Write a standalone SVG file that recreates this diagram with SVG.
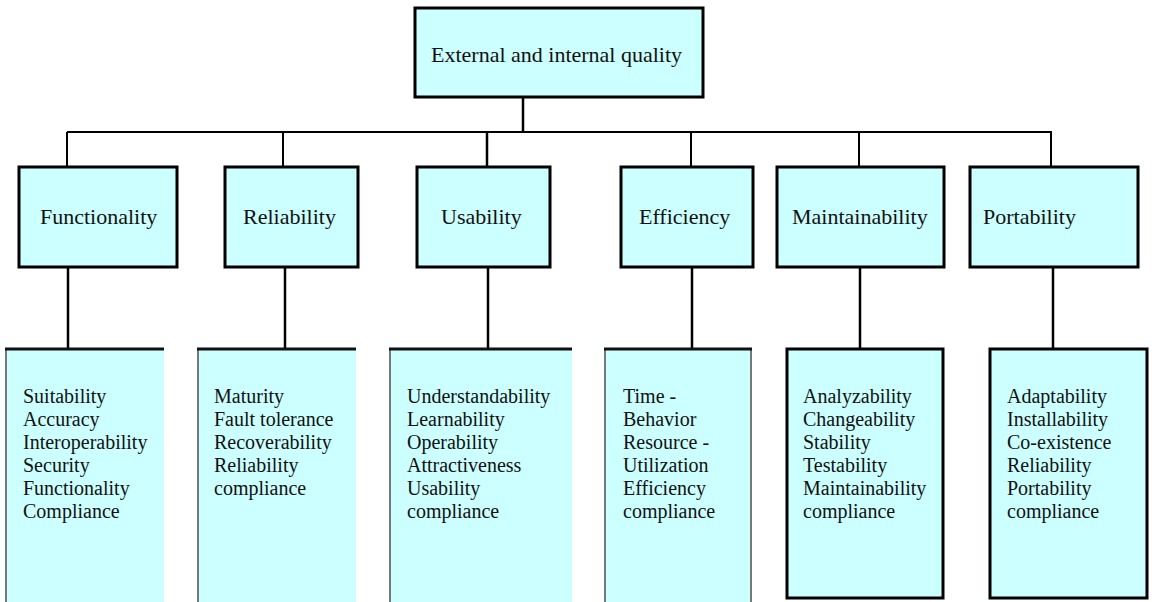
<svg xmlns="http://www.w3.org/2000/svg" width="1152" height="602" viewBox="0 0 1152 602">
  <style>
    .box { fill: #ccffff; stroke: #000; stroke-width: 3; }
    .open { fill: #ccffff; stroke: none; }
    .edge-top { stroke: #111; stroke-width: 3; }
    .edge-side { stroke: #777; stroke-width: 2; }
    .wire { stroke: #000; stroke-width: 2; fill: none; }
    .wire-thick { stroke: #000; stroke-width: 2.5; fill: none; }
    .head { font-family: "Liberation Serif", "Times New Roman", serif; font-size: 22px; fill: #111; }
    .item { font-family: "Liberation Serif", "Times New Roman", serif; font-size: 20px; fill: #111; }
  </style>
  <rect width="1152" height="602" fill="#fff"/>

  <!-- connectors -->
  <g id="connectors">
    <line class="wire-thick" x1="523" y1="97" x2="523" y2="132"/>
    <line class="wire" x1="67" y1="132" x2="1052" y2="132"/>
    <line class="wire" x1="67" y1="132" x2="67" y2="167"/>
    <line class="wire" x1="283" y1="132" x2="283" y2="167"/>
    <line class="wire-thick" x1="487" y1="132" x2="487" y2="167"/>
    <line class="wire" x1="691" y1="132" x2="691" y2="167"/>
    <line class="wire" x1="859" y1="132" x2="859" y2="167"/>
    <line class="wire" x1="1051" y1="132" x2="1051" y2="167"/>
    <line class="wire-thick" x1="68" y1="267" x2="68" y2="349"/>
    <line class="wire-thick" x1="285" y1="267" x2="285" y2="349"/>
    <line class="wire-thick" x1="488" y1="267" x2="488" y2="349"/>
    <line class="wire-thick" x1="692" y1="267" x2="692" y2="349"/>
    <line class="wire-thick" x1="860" y1="267" x2="860" y2="349"/>
    <line class="wire-thick" x1="1053" y1="267" x2="1053" y2="349"/>
  </g>

  <!-- root -->
  <g id="root">
    <rect class="box" x="415" y="8" width="288" height="89"/>
    <text class="head" x="431" y="62">External and internal quality</text>
  </g>

  <!-- characteristics -->
  <g id="functionality">
    <rect class="box" x="19" y="167" width="158" height="100"/>
    <text class="head" x="40" y="224">Functionality</text>
  </g>
  <g id="reliability">
    <rect class="box" x="225" y="167" width="133" height="100"/>
    <text class="head" x="243" y="224">Reliability</text>
  </g>
  <g id="usability">
    <rect class="box" x="417" y="167" width="133" height="100"/>
    <text class="head" x="441" y="224">Usability</text>
  </g>
  <g id="efficiency">
    <rect class="box" x="621" y="167" width="132" height="100"/>
    <text class="head" x="639" y="224">Efficiency</text>
  </g>
  <g id="maintainability">
    <rect class="box" x="777" y="167" width="167" height="100"/>
    <text class="head" x="792" y="224">Maintainability</text>
  </g>
  <g id="portability">
    <rect class="box" x="970" y="167" width="168" height="100"/>
    <text class="head" x="983" y="224">Portability</text>
  </g>

  <!-- sub-characteristics -->
  <g id="functionality-items">
    <rect class="open" x="6" y="349" width="158" height="260"/>
    <line class="edge-side" x1="6" y1="349" x2="6" y2="602"/>
    <line class="edge-top" x1="5" y1="349" x2="164" y2="349"/>
    <text class="item" x="23" y="403">Suitability</text>
    <text class="item" x="23" y="426">Accuracy</text>
    <text class="item" x="23" y="449">Interoperability</text>
    <text class="item" x="23" y="472">Security</text>
    <text class="item" x="23" y="495">Functionality</text>
    <text class="item" x="23" y="518">Compliance</text>
  </g>
  <g id="reliability-items">
    <rect class="open" x="198" y="349" width="158" height="260"/>
    <line class="edge-side" x1="198" y1="349" x2="198" y2="602"/>
    <line class="edge-top" x1="197" y1="349" x2="356" y2="349"/>
    <text class="item" x="214" y="403">Maturity</text>
    <text class="item" x="214" y="426">Fault tolerance</text>
    <text class="item" x="214" y="449">Recoverability</text>
    <text class="item" x="214" y="472">Reliability</text>
    <text class="item" x="214" y="495">compliance</text>
  </g>
  <g id="usability-items">
    <rect class="open" x="390" y="349" width="182" height="260"/>
    <line class="edge-side" x1="390" y1="349" x2="390" y2="602"/>
    <line class="edge-top" x1="389" y1="349" x2="572" y2="349"/>
    <text class="item" x="407" y="403">Understandability</text>
    <text class="item" x="407" y="426">Learnability</text>
    <text class="item" x="407" y="449">Operability</text>
    <text class="item" x="407" y="472">Attractiveness</text>
    <text class="item" x="407" y="495">Usability</text>
    <text class="item" x="407" y="518">compliance</text>
  </g>
  <g id="efficiency-items">
    <rect class="open" x="605" y="349" width="147" height="260"/>
    <line class="edge-side" x1="605" y1="349" x2="605" y2="602"/>
    <line class="edge-side" x1="751" y1="349" x2="751" y2="602"/>
    <line class="edge-top" x1="604" y1="349" x2="752" y2="349"/>
    <text class="item" x="623" y="403">Time -</text>
    <text class="item" x="623" y="426">Behavior</text>
    <text class="item" x="623" y="449">Resource -</text>
    <text class="item" x="623" y="472">Utilization</text>
    <text class="item" x="623" y="495">Efficiency</text>
    <text class="item" x="623" y="518">compliance</text>
  </g>
  <g id="maintainability-items">
    <rect class="box" x="787" y="349" width="156" height="249"/>
    <text class="item" x="803" y="403">Analyzability</text>
    <text class="item" x="803" y="426">Changeability</text>
    <text class="item" x="803" y="449">Stability</text>
    <text class="item" x="803" y="472">Testability</text>
    <text class="item" x="803" y="495">Maintainability</text>
    <text class="item" x="803" y="518">compliance</text>
  </g>
  <g id="portability-items">
    <rect class="box" x="990" y="349" width="157" height="249"/>
    <text class="item" x="1007" y="403">Adaptability</text>
    <text class="item" x="1007" y="426">Installability</text>
    <text class="item" x="1007" y="449">Co-existence</text>
    <text class="item" x="1007" y="472">Reliability</text>
    <text class="item" x="1007" y="495">Portability</text>
    <text class="item" x="1007" y="518">compliance</text>
  </g>
</svg>
